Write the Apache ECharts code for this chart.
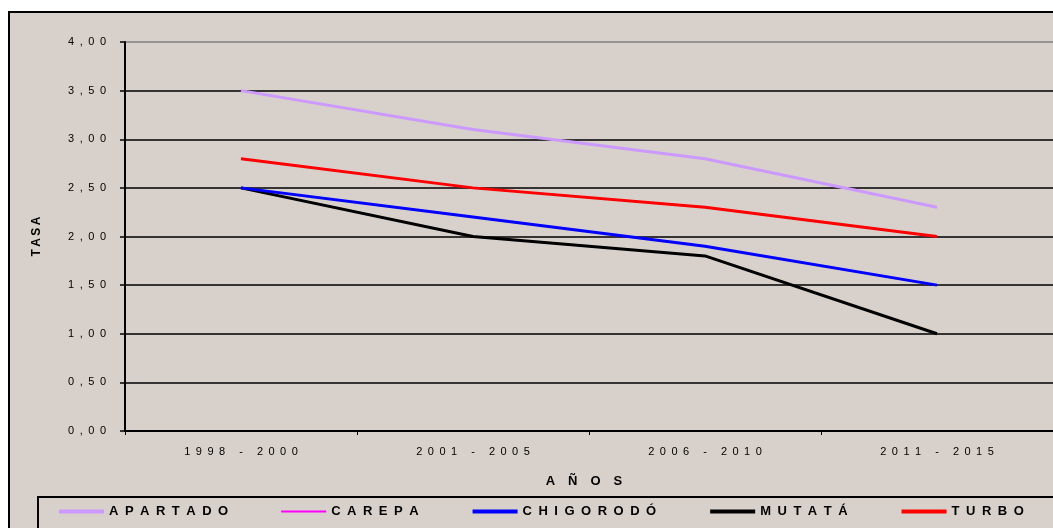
<!DOCTYPE html>
<html>
<head>
<meta charset="utf-8">
<script src="https://cdn.jsdelivr.net/npm/echarts@6/dist/echarts.min.js"></script>
<style>
  html, body { margin: 0; padding: 0; background: #fff; }
  #chart { width: 1053px; height: 528px; }
</style>
</head>
<body>
<div id="chart"></div>
<script>
// periods on the x axis
const periodos = ['1998 - 2000', '2001 - 2005', '2006 - 2010', '2011 - 2015'];

// tasa per municipio
const apartado = [3.5, 3.1, 2.8, 2.3];
const carepa = [2.8, 2.5, 2.3, 2.0];
const chigorodo = [2.5, 2.2, 1.9, 1.5];
const mutata = [2.5, 2.0, 1.8, 1.0];
const turbo = [2.8, 2.5, 2.3, 2.0];

const yTicks = [0, 0.5, 1, 1.5, 2, 2.5, 3, 3.5, 4];

// old excel charts spread the letters out, fake it with wide spaces
const EN = '\u2002';
const EM = '\u2003';
const THIN = '\u2009';
const spaced = (s, gap) => s.split('').join(gap || EN);
const fmtTick = (v) => spaced(v.toFixed(2).replace('.', ','));

const font = 'Liberation Sans, Arial, sans-serif';

const mkLine = (name, data, color, width, z) => ({
  name,
  type: 'line',
  data,
  symbol: 'none',
  z,
  lineStyle: { color, width },
  itemStyle: { color }
});

const chart = echarts.init(document.getElementById('chart'));

chart.setOption({
  backgroundColor: '#fff',
  animation: false,
  graphic: [{
    type: 'rect',
    z: -10,
    shape: { x: 9, y: 12, width: 1060, height: 530 },
    style: { fill: '#D8D0CA', stroke: '#000', lineWidth: 2 }
  }],
  grid: { left: 125, top: 42, right: 0, bottom: 97 },
  legend: {
    left: 38,
    top: 497,
    width: 1100,
    padding: [8, 40, 30, 19],
    itemGap: 52,
    itemWidth: 45,
    itemHeight: 10,
    backgroundColor: '#D8D0CA',
    borderColor: '#000',
    borderWidth: 2,
    itemStyle: { opacity: 0 },
    lineStyle: { width: 4 },
    data: [
      { name: 'APARTADO' },
      { name: 'CAREPA', lineStyle: { width: 2 } },
      { name: 'CHIGORODÓ' },
      { name: 'MUTATÁ' },
      { name: 'TURBO' }
    ],
    formatter: (n) => spaced(n),
    textStyle: { fontFamily: font, fontSize: 13, fontWeight: 'bold', color: '#000' }
  },
  xAxis: {
    type: 'category',
    data: periodos,
    boundaryGap: true,
    name: spaced('AÑOS', EM),
    nameLocation: 'middle',
    nameGap: 44,
    nameTextStyle: { fontFamily: font, fontSize: 13, fontWeight: 'bold', color: '#000', padding: [0, 10, 0, 0] },
    axisLine: { lineStyle: { color: '#000', width: 2 } },
    axisTick: { show: true, length: 4, lineStyle: { color: '#000' } },
    axisLabel: {
      margin: 15,
      color: '#000',
      fontFamily: font,
      fontSize: 11,
      formatter: (v) => spaced(v)
    }
  },
  yAxis: {
    type: 'value',
    min: 0,
    max: 4,
    interval: 0.5,
    name: spaced('TASA', THIN),
    nameLocation: 'middle',
    nameGap: 82,
    nameRotate: 90,
    nameTextStyle: { fontFamily: font, fontSize: 12, fontWeight: 'bold', color: '#000' },
    axisLine: { show: true, lineStyle: { color: '#000', width: 2 } },
    axisTick: { show: true, length: 5, lineStyle: { color: '#000', width: 1.5 } },
    axisLabel: {
      margin: 19,
      color: '#000',
      fontFamily: font,
      fontSize: 11,
      formatter: (v) => fmtTick(v)
    },
    splitLine: {
      lineStyle: {
        color: yTicks.map((t) => (t === 4 ? '#808080' : '#000')),
        width: 1.5
      }
    }
  },
  series: [
    mkLine('APARTADO', apartado, '#CC99FF', 3, 2),
    mkLine('CAREPA', carepa, '#FF00FF', 1.5, 1),
    mkLine('CHIGORODÓ', chigorodo, '#0000FF', 3, 3),
    mkLine('MUTATÁ', mutata, '#000000', 3, 2),
    mkLine('TURBO', turbo, '#FF0000', 3, 4)
  ]
});
</script>
</body>
</html>
